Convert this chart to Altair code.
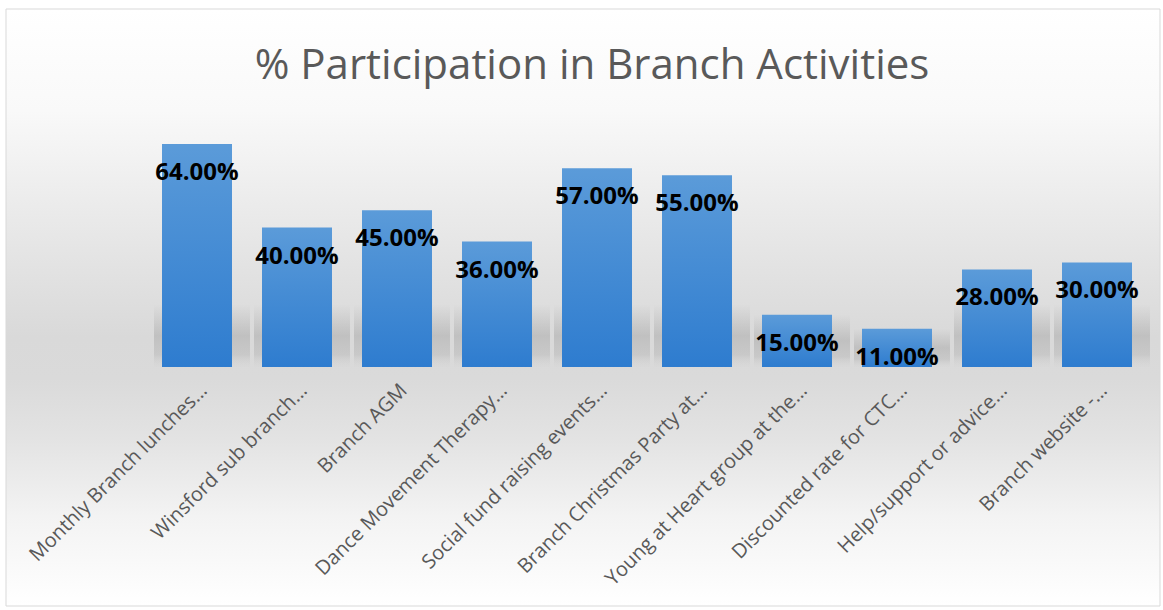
import altair as alt
import pandas as pd

title_text = "% Participation in Branch Activities"
categories = [
    "Monthly Branch lunches...",
    "Winsford sub branch...",
    "Branch AGM",
    "Dance Movement Therapy...",
    "Social fund raising events...",
    "Branch Christmas Party at...",
    "Young at Heart group at the...",
    "Discounted rate for CTC...",
    "Help/support or advice...",
    "Branch website -...",
]
values = [0.64, 0.40, 0.45, 0.36, 0.57, 0.55, 0.15, 0.11, 0.28, 0.30]

df = pd.DataFrame({"activity": categories, "value": values})
one = pd.DataFrame({"t": [title_text]})

W, H = 1000, 244
PAD_L, PAD_T = 147, 123

x_enc = alt.X(
    "activity:N",
    sort=None,
    scale=alt.Scale(paddingInner=0.3, paddingOuter=0.15),
    axis=alt.Axis(
        title=None,
        labelAngle=-45,
        labelAlign="right",
        labelBaseline="top",
        labelFont="Open Sans",
        labelFontSize=20,
        labelColor="#595959",
        labelPadding=13,
        labelLimit=400,
        domain=False,
        ticks=False,
        grid=False,
        zindex=2,
    ),
)
y_scale = alt.Scale(domain=[0, 0.70])

background = alt.Chart(one).mark_rect(
    stroke="#d9d9d9",
    strokeWidth=1,
    color=alt.Gradient(
        gradient="linear",
        x1=0, x2=0, y1=0, y2=1,
        stops=[
            alt.GradientStop(offset=0.0, color="#ffffff"),
            alt.GradientStop(offset=0.17, color="#f9f9f9"),
            alt.GradientStop(offset=0.33, color="#ebebeb"),
            alt.GradientStop(offset=0.55, color="#d9d9d9"),
            alt.GradientStop(offset=0.62, color="#dadada"),
            alt.GradientStop(offset=0.72, color="#e3e3e3"),
            alt.GradientStop(offset=0.85, color="#f3f3f3"),
            alt.GradientStop(offset=1.0, color="#ffffff"),
        ],
    ),
).encode(
    x=alt.value(6 - PAD_L),
    x2=alt.value(1160 - PAD_L),
    y=alt.value(9 - PAD_T),
    y2=alt.value(606 - PAD_T),
)

title = alt.Chart(one).mark_text(
    font="Open Sans",
    fontSize=42,
    color="#595959",
    align="center",
    baseline="alphabetic",
).encode(
    x=alt.value(592 - PAD_L),
    y=alt.value(79 - PAD_T),
    text="t:N",
)

shadow = alt.Chart(df).transform_calculate(
    sh="min(datum.value, 0.18)"
).mark_bar(
    size=96,
    xOffset=5,
    color=alt.Gradient(
        gradient="linear",
        x1=0, x2=0, y1=0, y2=1,
        stops=[
            alt.GradientStop(offset=0.0, color="rgba(140,140,140,0)"),
            alt.GradientStop(offset=0.5, color="rgba(140,140,140,0.32)"),
            alt.GradientStop(offset=0.8, color="rgba(150,150,150,0.25)"),
            alt.GradientStop(offset=1.0, color="rgba(200,200,200,0.05)"),
        ],
    ),
).encode(
    x=x_enc,
    y=alt.Y("sh:Q", scale=y_scale, axis=None),
)

bars = alt.Chart(df).mark_bar(
    color=alt.Gradient(
        gradient="linear",
        x1=0, x2=0, y1=0, y2=1,
        stops=[
            alt.GradientStop(offset=0.0, color="#5b9bd9"),
            alt.GradientStop(offset=1.0, color="#2e7ccf"),
        ],
    ),
).encode(
    x=x_enc,
    y=alt.Y("value:Q", scale=y_scale, axis=None),
)

labels = alt.Chart(df).mark_text(
    font="Open Sans",
    fontWeight="bold",
    fontSize=24,
    color="#000000",
    baseline="middle",
    align="center",
    dy=29,
).encode(
    x=x_enc,
    y=alt.Y("value:Q", scale=y_scale, axis=None),
    text=alt.Text("value:Q", format=".2%"),
)

chart = alt.layer(background, title, shadow, bars, labels).properties(
    width=W,
    height=H,
    autosize=alt.AutoSizeParams(type="none"),
    padding={"left": PAD_L, "top": PAD_T, "right": 1163 - PAD_L - W, "bottom": 610 - PAD_T - H},
    background="#ffffff",
).configure_view(strokeWidth=0)

chart.save("out.html", embed_options={"renderer": "svg", "actions": False})
